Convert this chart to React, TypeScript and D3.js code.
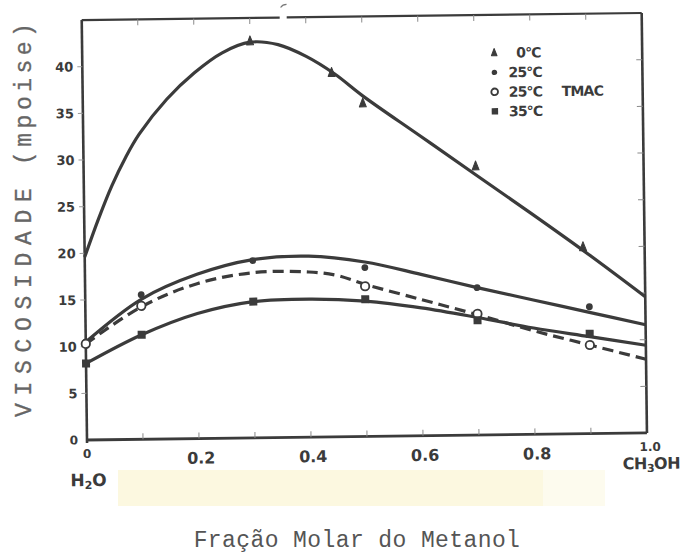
import React from "react";
import * as d3 from "d3";

// ---- data ----------------------------------------------------------------
// Mole fraction of methanol and viscosity (mpoise)

// 0 °C
const t0MarkX = [0.3, 0.445, 0.5, 0.7, 0.89];
const t0MarkY = [42.5, 39.0, 35.7, 28.8, 20.0];
const t0CurveX = [0, 0.025, 0.05, 0.075, 0.1, 0.15, 0.2, 0.25, 0.3, 0.35, 0.4, 0.45, 0.5, 0.6, 0.7, 0.8, 0.9, 1.0];
const t0CurveY = [19.6, 23.6, 27.2, 30.2, 32.7, 36.4, 39.2, 41.3, 42.4, 42.1, 40.8, 38.9, 36.5, 32.2, 27.9, 23.6, 19.2, 14.6];

// 25 °C
const t25MarkX = [0, 0.1, 0.3, 0.5, 0.7, 0.9];
const t25MarkY = [10.5, 15.5, 19.0, 18.1, 15.8, 13.6];
const t25CurveX = [0, 0.1, 0.2, 0.3, 0.4, 0.5, 0.6, 0.7, 0.8, 0.9, 1.0];
const t25CurveY = [10.5, 15.0, 17.6, 19.1, 19.4, 18.7, 17.3, 15.8, 14.4, 13.0, 11.6];

// 25 °C TMAC
const tmacMarkX = [0, 0.1, 0.5, 0.7, 0.9];
const tmacMarkY = [10.3, 14.3, 16.1, 13.0, 9.5];
const tmacCurveX = [0, 0.1, 0.2, 0.3, 0.4, 0.45, 0.5, 0.6, 0.7, 0.8, 0.9, 1.0];
const tmacCurveY = [10.3, 14.2, 16.6, 17.7, 17.7, 17.3, 16.3, 14.6, 12.9, 11.1, 9.5, 7.9];

// 35 °C
const t35MarkX = [0, 0.1, 0.3, 0.5, 0.7, 0.9];
const t35MarkY = [8.2, 11.2, 14.6, 14.7, 12.3, 10.7];
const t35CurveX = [0, 0.1, 0.2, 0.3, 0.4, 0.5, 0.6, 0.7, 0.8, 0.9, 1.0];
const t35CurveY = [8.2, 11.2, 13.4, 14.6, 14.8, 14.5, 13.7, 12.6, 11.4, 10.4, 9.4];

const yTicks = [0, 5, 10, 15, 20, 25, 30, 35, 40];
const xTickLabels = ["0", "0.2", "0.4", "0.6", "0.8", "1.0"];
const xTickValues = [0, 0.2, 0.4, 0.6, 0.8, 1.0];
const minorX = [0.1, 0.2, 0.3, 0.4, 0.5, 0.6, 0.7, 0.8, 0.9];

const legendLabels = ["0°C", "25°C", "25°C", "35°C"];

// ---- layout --------------------------------------------------------------
const W = 682;
const H = 556;
const X0 = 87;
const X1 = 647;
const Y0 = 440;
const Y1 = 20;

const x = d3.scaleLinear().domain([0, 1]).range([X0, X1]);
const y = d3.scaleLinear().domain([0, 45]).range([Y0, Y1]);

const INK = "#3b3b3b";
const HAND = "'DejaVu Sans', 'Liberation Sans', sans-serif";
const TYPE = "'Liberation Mono', 'DejaVu Sans Mono', monospace";

const zip = (xs: number[], ys: number[]) => xs.map((v, i) => [v, ys[i]] as [number, number]);

const line = d3
  .line<[number, number]>()
  .x((d) => x(d[0]))
  .y((d) => y(d[1]))
  .curve(d3.curveCatmullRom.alpha(0.5));

type Shape = "tri" | "dot" | "ring" | "square";

function Marker({ cx, cy, shape, s = 1 }: { cx: number; cy: number; shape: Shape; s?: number }) {
  if (shape === "tri") {
    const h = 9 * s;
    const w = 7 * s;
    return (
      <path
        d={`M${cx},${cy - h * 0.6} L${cx + w / 2},${cy + h * 0.4} L${cx - w / 2},${cy + h * 0.4} Z`}
        fill={INK}
        stroke={INK}
        strokeWidth={1}
        strokeLinejoin="round"
      />
    );
  }
  if (shape === "dot") return <circle cx={cx} cy={cy} r={3.4 * s} fill={INK} />;
  if (shape === "ring")
    return <circle cx={cx} cy={cy} r={4.2 * s} fill="#fff" stroke={INK} strokeWidth={1.8} />;
  const a = 8 * s;
  return <rect x={cx - a / 2} y={cy - a / 2} width={a} height={a} fill={INK} />;
}

const series = [
  { mx: t0MarkX, my: t0MarkY, cx: t0CurveX, cy: t0CurveY, shape: "tri" as Shape, dash: undefined },
  { mx: t25MarkX, my: t25MarkY, cx: t25CurveX, cy: t25CurveY, shape: "dot" as Shape, dash: undefined },
  { mx: tmacMarkX, my: tmacMarkY, cx: tmacCurveX, cy: tmacCurveY, shape: "ring" as Shape, dash: "11 6" },
  { mx: t35MarkX, my: t35MarkY, cx: t35CurveX, cy: t35CurveY, shape: "square" as Shape, dash: undefined },
];

export default function App() {
  return (
    <svg
      width={W}
      height={H}
      viewBox={`0 0 ${W} ${H}`}
      style={{ position: "absolute", left: 0, top: 0, background: "#fff" }}
    >
      <rect x={0} y={0} width={W} height={H} fill="#fff" />
      {/* pale paper band under the x labels */}
      <rect x={118} y={470} width={425} height={36} fill="#fcf8e0" />
      <rect x={543} y={470} width={62} height={36} fill="#fdfbee" />

      {/* hand-drawn plot, slightly tilted on the page */}
      <g transform={`rotate(-0.72 ${X0} ${Y0})`}>
        {/* frame */}
        <line x1={X0} y1={Y1} x2={X0} y2={Y0 + 3} stroke={INK} strokeWidth={2.6} />
        <line x1={X0 - 1} y1={Y0} x2={X1} y2={Y0} stroke={INK} strokeWidth={2.8} />
        <line x1={X1} y1={Y1} x2={X1} y2={Y0} stroke={INK} strokeWidth={2.6} />
        <line x1={X0} y1={Y1} x2={285} y2={Y1} stroke={INK} strokeWidth={2.2} />
        <line x1={292} y1={Y1} x2={X1} y2={Y1} stroke={INK} strokeWidth={2.2} />
        <path d="M286,10 q2,-3 6,-3" fill="none" stroke="#777" strokeWidth={1.2} />

        {/* ticks */}
        {minorX.map((v) => (
          <g key={`mx${v}`}>
            <line x1={x(v)} x2={x(v)} y1={Y0} y2={Y0 - 6} stroke="#8a8a8a" strokeWidth={1} />
            <line x1={x(v)} x2={x(v)} y1={Y1} y2={Y1 + 6} stroke="#8a8a8a" strokeWidth={1} />
          </g>
        ))}
        {yTicks.slice(1).map((v) => (
          <g key={`my${v}`}>
            <line x1={X0 - 5} x2={X0} y1={y(v)} y2={y(v)} stroke="#9a9a9a" strokeWidth={1} />
            <line x1={X1 - 6} x2={X1} y1={y(v)} y2={y(v)} stroke="#8a8a8a" strokeWidth={1} />
          </g>
        ))}

        {/* y tick labels */}
        {yTicks.map((v) => (
          <text
            key={`yl${v}`}
            x={X0 - 9}
            y={y(v)}
            dy="0.36em"
            textAnchor="end"
            fontFamily={HAND}
            fontWeight="bold"
            fontSize={v === 0 ? 12 : 13}
            fill={INK}
          >
            {v}
          </text>
        ))}

        {/* x tick labels */}
        {xTickValues.map((v, i) => (
          <text
            key={`xl${v}`}
            x={x(v) + (i === 0 ? 0 : i === 5 ? 3 : 2)}
            y={i === 0 || i === 5 ? 458 : 465}
            textAnchor="middle"
            fontFamily={HAND}
            fontWeight="bold"
            fontSize={i === 0 || i === 5 ? 12 : 16}
            fill={INK}
          >
            {xTickLabels[i]}
          </text>
        ))}
        <text x={X0 + 1} y={486} textAnchor="middle" fontFamily={HAND} fontWeight="bold" fontSize={17} fill={INK}>
          H<tspan fontSize={11} dy={3}>2</tspan>
          <tspan dy={-3}>O</tspan>
        </text>
        <text x={X1 + 4} y={476} textAnchor="middle" fontFamily={HAND} fontWeight="bold" fontSize={16} fill={INK} letterSpacing={-0.5}>
          CH<tspan fontSize={11} dy={3}>3</tspan>
          <tspan dy={-3}>OH</tspan>
        </text>

        {/* curves */}
        {series.map((s, i) => (
          <path
            key={`c${i}`}
            d={line(zip(s.cx, s.cy)) ?? ""}
            fill="none"
            stroke={INK}
            strokeWidth={3.2}
            strokeDasharray={s.dash}
            strokeLinecap="butt"
          />
        ))}

        {/* markers */}
        {series.map((s, i) =>
          s.mx.map((v, j) => (
            <Marker key={`m${i}-${j}`} cx={x(v)} cy={y(s.my[j])} shape={s.shape} />
          ))
        )}

        {/* legend */}
        {series.map((s, i) => {
          const ly = 58 + i * 19.5;
          return (
            <g key={`lg${i}`}>
              <Marker cx={499} cy={ly} shape={s.shape} s={0.8} />
              <text
                x={i === 0 ? 521 : 513}
                y={ly}
                dy="0.36em"
                fontFamily={HAND}
                fontWeight="bold"
                fontSize={14}
                fill={INK}
                letterSpacing={-0.8}
              >
                {legendLabels[i]}
              </text>
              {i === 2 && (
                <text x={566} y={ly} dy="0.36em" fontFamily={HAND} fontWeight="bold" fontSize={14} fill={INK} letterSpacing={-0.8}>
                  TMAC
                </text>
              )}
            </g>
          );
        })}
      </g>

      {/* axis titles */}
      <g transform="translate(31,417) rotate(-90)">
        <text x={0} y={0} fontFamily={TYPE} fontSize={23} fill="#666" stroke="#666" strokeWidth={0.3} letterSpacing={7.7}>
          VISCOSIDADE
        </text>
        <text x={252} y={0} fontFamily={TYPE} fontSize={23} fill="#666" stroke="#666" strokeWidth={0.3} letterSpacing={4.5}>
          (mpoise)
        </text>
      </g>
      <text x={357} y={547} textAnchor="middle" fontFamily={TYPE} fontSize={23} fill="#555" letterSpacing={0.4}>
        Fração Molar do Metanol
      </text>
    </svg>
  );
}
